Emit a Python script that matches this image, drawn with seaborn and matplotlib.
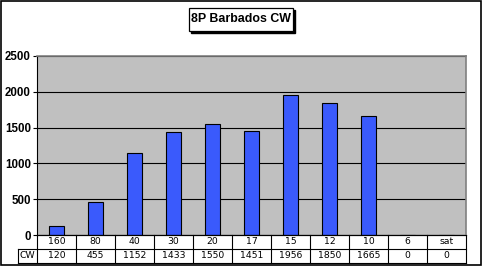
import matplotlib
matplotlib.use('Agg')
import matplotlib.pyplot as plt
import seaborn as sns
import pandas as pd
from matplotlib.patches import Rectangle
from matplotlib.lines import Line2D
import matplotlib.transforms as mtrans

bands = ['160', '80', '40', '30', '20', '17', '15', '12', '10', '6', 'sat']
qsos = [120, 455, 1152, 1433, 1550, 1451, 1956, 1850, 1665, 0, 0]
series_label = 'CW'
title = '8P Barbados CW'
yticks = [0, 500, 1000, 1500, 2000, 2500]

W, H = 483, 267
fig = plt.figure(figsize=(W / 100, H / 100), dpi=100)
fig.patch.set_facecolor('white')


def fx(px):
    return px / W


def fy(py):
    return 1 - py / H


L, R, T, B = 37, 466, 56, 235
ax = fig.add_axes([fx(L), fy(B), fx(R) - fx(L), fy(T) - fy(B)])
df = pd.DataFrame({'band': bands, 'qso': qsos})
sns.barplot(data=df, x='band', y='qso', order=bands, color='#3a5afc',
            width=0.41, edgecolor='black', linewidth=0.8, saturation=1, ax=ax)
ax.set_facecolor('#c0c0c0')
ax.set_ylim(0, 2500)
ax.set_xlim(-0.5, len(bands) - 0.5)
ax.set_yticks(yticks)
ax.set_yticklabels([str(v) for v in yticks], fontsize=8.3, fontweight='bold',
                   family='Liberation Sans')
ax.yaxis.grid(True, color='black', linewidth=0.8)
ax.set_axisbelow(True)
ax.set_xticks([])
ax.set_xlabel('')
ax.set_ylabel('')
ax.tick_params(axis='y', length=3, width=0.8, color='black', pad=1.5)
for s in ['left', 'bottom']:
    ax.spines[s].set_color('black')
    ax.spines[s].set_linewidth(0.8)
for s in ['top', 'right']:
    ax.spines[s].set_color('#808080')
    ax.spines[s].set_linewidth(1.2)

# data table below the plot
tr = mtrans.blended_transform_factory(ax.transData, ax.transAxes)
ph = B - T
rh = 14 / ph
n = len(bands)
xl = -0.5 - (L - 18) / (R - L) * n
kw = dict(color='black', linewidth=0.8, clip_on=False, transform=tr)
ax.add_line(Line2D([-0.5, n - 0.5], [0, 0], **kw))
ax.add_line(Line2D([xl, n - 0.5], [-rh, -rh], **kw))
ax.add_line(Line2D([xl, n - 0.5], [-2 * rh, -2 * rh], **kw))
for i in range(n + 1):
    ax.add_line(Line2D([i - 0.5, i - 0.5], [0, -2 * rh], **kw))
ax.add_line(Line2D([xl, xl], [-rh, -2 * rh], **kw))
tk = dict(transform=tr, ha='center', va='center', fontsize=6.7,
          family='DejaVu Sans', clip_on=False)
for i, (b, q) in enumerate(zip(bands, qsos)):
    ax.text(i, -rh / 2, b, **tk)
    ax.text(i, -1.5 * rh, str(q), **tk)
ax.text((xl - 0.5) / 2, -1.5 * rh, series_label, **tk)

# title box with shadow
bx0, bx1, by0, by1 = 189, 293, 8, 31
fig.patches.append(Rectangle((fx(bx0 + 2), fy(by1 + 2)), fx(bx1) - fx(bx0), fy(by0) - fy(by1),
                             transform=fig.transFigure, facecolor='black', edgecolor='black', zorder=1))
fig.patches.append(Rectangle((fx(bx0), fy(by1)), fx(bx1) - fx(bx0), fy(by0) - fy(by1),
                             transform=fig.transFigure, facecolor='white', edgecolor='black',
                             linewidth=0.9, zorder=2))
fig.text(fx((bx0 + bx1) / 2), fy((by0 + by1) / 2), title, ha='center', va='center',
         fontsize=8.9, fontweight='bold', family='Liberation Sans', zorder=3)

# outer chart border
fig.patches.append(Rectangle((fx(1), fy(265)), fx(480), fy(1) - fy(265),
                             transform=fig.transFigure, facecolor='none',
                             edgecolor='black', linewidth=1.2, zorder=5))

fig.savefig('out.png', dpi=100)
